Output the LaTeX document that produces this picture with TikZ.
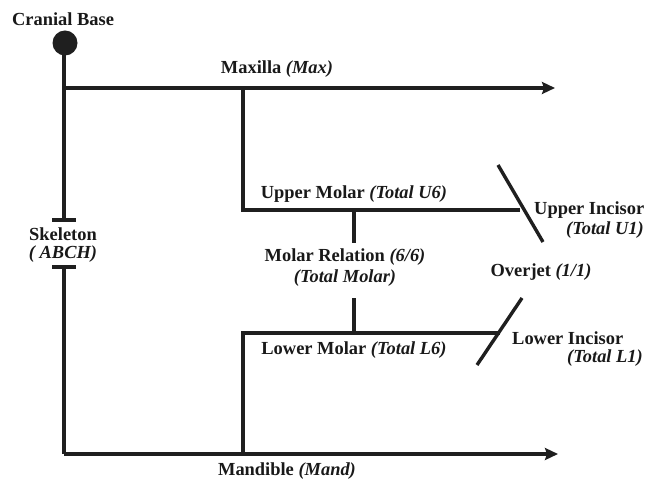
\documentclass[tikz,border=0pt]{standalone}
\usepackage{fontspec}
\setmainfont{Liberation Serif}
\usetikzlibrary{arrows.meta}
\tikzset{
  lbl/.style={font=\fontsize{18.5}{21}\selectfont\bfseries, inner sep=0pt, text=black!90},
  ln/.style={line width=3.4bp, draw=black!88},
  arr/.style={ln, -{Stealth[length=13bp,width=12bp,inset=2bp]}},
}
\begin{document}
\begin{tikzpicture}[x=1bp,y=-1bp]
\useasboundingbox (0,0) rectangle (647,481);
% coordinates
\fill[black!88] (65,43) circle (12.5) coordinate (cb);
\coordinate (maxL) at (64,88);
\coordinate (maxR) at (555,88);
\coordinate (maxJ) at (243,88);
\coordinate (skT) at (64,220);
\coordinate (skB) at (64,267);
\coordinate (manL) at (64,454);
\coordinate (manR) at (558,454);
\coordinate (manJ) at (243,454);
\coordinate (umL) at (243,210);
\coordinate (umR) at (520,210);
\coordinate (lmL) at (243,333);
\coordinate (lmR) at (500,333);
\coordinate (mrT) at (354,210);
\coordinate (mrT2) at (354,243);
\coordinate (mrB2) at (354,298);
\coordinate (mrB) at (354,333);
\coordinate (uiA) at (498,165);
\coordinate (uiB) at (543,242);
\coordinate (liA) at (522,298);
\coordinate (liB) at (477,365);
% lines
\draw[ln] (64,43) -- (skT);
\draw[ln] (52,220) -- (76,220);
\draw[ln] (52,267) -- (76,267);
\draw[ln] (skB) -- (manL);
\draw[arr] (maxL) -- (maxR);
\draw[arr] (manL) -- (manR);
\draw[ln] (maxJ) -- (umL) -- (umR);
\draw[ln] (manJ) -- (lmL) -- (lmR);
\draw[ln] (mrT) -- (mrT2);
\draw[ln] (mrB2) -- (mrB);
\draw[ln] (uiA) -- (uiB);
\draw[ln] (liA) -- (liB);
% labels
\node[lbl] (cbl) at (63,19) {Cranial Base};
\node[lbl] (maxl) at (277,69) {Maxilla \textit{(Max)}};
\node[lbl] (manl) at (287,471) {Mandible \textit{(Mand)}};
\node[lbl] (sk1) at (63,234) {Skeleton};
\node[lbl] (sk2) at (63,254) {\textit{( ABCH)}};
\node[lbl] (uml) at (354,194) {Upper Molar \textit{(Total U6)}};
\node[lbl] (lml) at (354,350) {Lower Molar \textit{(Total L6)}};
\node[lbl] (mr1) at (345,257) {Molar Relation \textit{(6/6)}};
\node[lbl] (mr2) at (345,278) {\textit{(Total Molar)}};
\node[lbl] (oj) at (541,272) {Overjet \textit{(1/1)}};
\node[lbl, anchor=west] (ui1) at (534,210) {Upper Incisor};
\node[lbl, anchor=east] (ui2) at (644,230) {\textit{(Total U1)}};
\node[lbl, anchor=west] (li1) at (512,338) {Lower Incisor};
\node[lbl, anchor=east] (li2) at (643,358) {\textit{(Total L1)}};
\end{tikzpicture}
\end{document}
